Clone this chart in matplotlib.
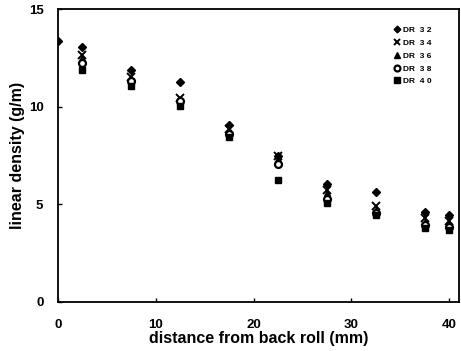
import matplotlib
matplotlib.use("Agg")
import matplotlib.pyplot as plt
import numpy as np

plt.rcParams['font.family'] = ['Liberation Sans', 'DejaVu Sans']

x = [2.5, 7.5, 12.5, 17.5, 22.5, 27.5, 32.5, 37.5, 40]
x_dr32 = [0] + x
dr32 = [13.35, 13.06, 11.86, 11.25, 9.04, 7.45, 6.04, 5.62, 4.63, 4.46]
dr34 = [12.67, 11.50, 10.45, 8.85, 7.48, 5.74, 4.89, 4.29, 4.17]
dr36 = [12.50, 11.40, 10.36, 8.80, 7.32, 5.57, 4.72, 4.12, 4.03]
dr38 = [12.24, 11.30, 10.27, 8.60, 7.08, 5.27, 4.56, 3.95, 3.83]
dr40 = [11.86, 11.08, 10.02, 8.45, 6.26, 5.06, 4.43, 3.78, 3.69]
labels = ['DR  3 2', 'DR  3 4', 'DR  3 6', 'DR  3 8', 'DR  4 0']

xticks = [0, 10, 20, 30, 40]
yticks = [0, 5, 10, 15]

fig = plt.figure(figsize=(4.61, 3.51), dpi=100)
ax = fig.add_axes([58/461, 1 - 302/351, (459 - 58)/461, (302 - 9)/351])

ax.plot(x_dr32, dr32, linestyle='none', marker='D', ms=4.0, color='black', label=labels[0])
ax.plot(x, dr34, linestyle='none', marker='x', ms=5.5, mew=1.4, color='black', label=labels[1])
ax.plot(x, dr36, linestyle='none', marker='^', ms=5, color='black', label=labels[2])
ax.plot(x, dr38, linestyle='none', marker='o', ms=5, mew=1.6, mfc='white', mec='black', label=labels[3])
ax.plot(x, dr40, linestyle='none', marker='s', ms=5, color='black', label=labels[4])

ax.set_xlim(0, 41)
ax.set_ylim(0, 15)
ax.set_xticks(xticks)
ax.set_yticks(yticks)
ax.tick_params(direction='in', length=3, width=1, labelsize=9.5)
ax.tick_params(axis='x', pad=12)
ax.tick_params(axis='y', pad=10.5)
for t in ax.get_xticklabels() + ax.get_yticklabels():
    t.set_fontweight('bold')
for s in ax.spines.values():
    s.set_linewidth(1.3)

ax.set_xlabel('distance from back roll (mm)', fontsize=11.5, fontweight='bold', labelpad=0)
ax.set_ylabel('linear density (g/m)', fontsize=11.5, fontweight='bold', labelpad=3)

leg = ax.legend(loc='upper left', bbox_to_anchor=(390/461, 1 - 22/351), bbox_transform=fig.transFigure,
                frameon=False, fontsize=6, handlelength=0.7, handletextpad=0.35,
                labelspacing=0.6, borderpad=0, markerscale=0.85)
for t in leg.get_texts():
    t.set_fontweight('bold')

fig.savefig('out.png', dpi=100)
